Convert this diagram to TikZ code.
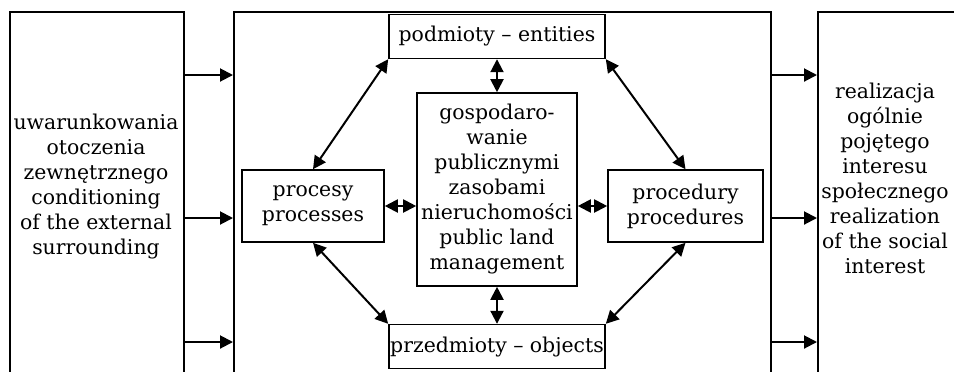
\documentclass[tikz,border=0pt]{standalone}
\usepackage{fontspec}
\setmainfont{DejaVu Serif}
\usepackage{tikz}
\usetikzlibrary{arrows.meta,positioning}

\begin{document}
\begin{tikzpicture}[
    x=0.5pt, y=-0.5pt,
    font=\fontsize{10.2}{12.5}\selectfont,
    frame/.style={rectangle, draw, line width=0.8pt, anchor=north west, minimum height=200pt, inner sep=0pt},
    block/.style={rectangle, draw, line width=0.8pt, align=center, inner sep=0pt, minimum height=36pt},
    hub/.style={rectangle, draw, line width=0.8pt, align=center, inner sep=0pt, minimum width=80pt, minimum height=96.5pt},
    edge/.style={rectangle, draw, line width=0.8pt, align=center, inner sep=0pt, minimum width=108pt, minimum height=22pt},
    label/.style={align=center, inner sep=0pt},
    line/.style={draw, line width=1pt, -{Triangle[length=6.5pt,width=6.5pt]}},
    both/.style={line, {Triangle[length=6.5pt,width=6.5pt]}-{Triangle[length=6.5pt,width=6.5pt]}}
  ]
    \useasboundingbox (0,0) rectangle (954,371);

    % Outer frames (open at the bottom)
    \node [frame, minimum width=87pt] (lframe) at (9,11) {};
    \node [frame, minimum width=268.5pt] (mframe) at (233,11) {};
    \node [frame, minimum width=75pt] (rframe) at (817,11) {};
    \node [label] (cond) at (96,187) {uwarunkowania\\otoczenia\\zewnętrznego\\conditioning\\of the external\\surrounding};
    \node [label] (real) at (885,178) {realizacja\\ogólnie\\pojętego\\interesu\\społecznego\\realization\\of the social\\interest};

    % Inner boxes
    \node [hub] (hub) at (497,189.5) {gospodaro-\\wanie\\publicznymi\\zasobami\\nieruchomości\\public land\\management};
    \node [edge, above=16.5pt of hub] (entities) {podmioty – entities};
    \node [edge, below=18.5pt of hub] (objects) {przedmioty – objects};
    \node [block, minimum width=71pt] (procesy) at (313,206) {procesy\\processes};
    \node [block, minimum width=77.5pt] (procedury) at (685.5,206) {procedury\\procedures};

    % Inputs and outputs
    \path [line] ([yshift=-32pt]lframe.north east) -- ([yshift=-32pt]mframe.north west);
    \path [line] ([yshift=-103.5pt]lframe.north east) -- ([yshift=-103.5pt]mframe.north west);
    \path [line] ([yshift=-165.5pt]lframe.north east) -- ([yshift=-165.5pt]mframe.north west);
    \path [line] ([yshift=-32pt]mframe.north east) -- ([yshift=-32pt]rframe.north west);
    \path [line] ([yshift=-103.5pt]mframe.north east) -- ([yshift=-103.5pt]rframe.north west);
    \path [line] ([yshift=-165.5pt]mframe.north east) -- ([yshift=-165.5pt]rframe.north west);

    % Links around the hub
    \path [both] (entities) -- (hub);
    \path [both] (hub) -- (objects);
    \path [both] (procesy.east) -- (procesy.east -| hub.west);
    \path [both] (procedury.west) -- (procedury.west -| hub.east);
    \path [both] (entities.south west) -- (procesy.north);
    \path [both] (entities.south east) -- (procedury.north);
    \path [both] (procesy.south) -- (objects.north west);
    \path [both] (procedury.south) -- (objects.north east);

\end{tikzpicture}
\end{document}
